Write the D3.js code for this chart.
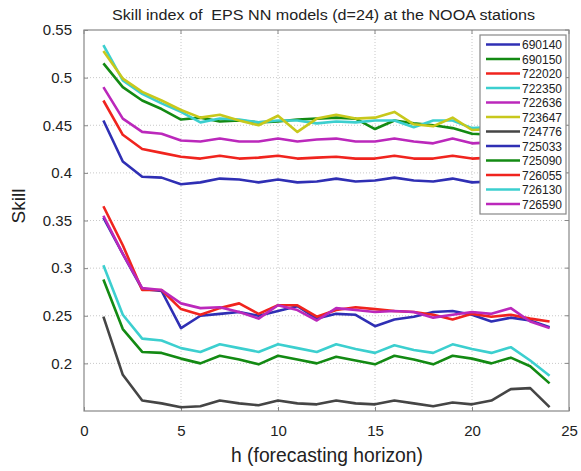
<!DOCTYPE html>
<html>
<head>
<meta charset="utf-8">
<script src="https://cdn.jsdelivr.net/npm/d3@7"></script>
<style>
  body { margin: 0; background: #fff; }
  text { font-family: "Liberation Sans", Arial, sans-serif; fill: #222; }
</style>
</head>
<body>
<div id="chart"></div>
<script>
// forecasting horizon 1..24
var horizon = [1,2,3,4,5,6,7,8,9,10,11,12,13,14,15,16,17,18,19,20,21,22,23,24];
var xTicks = [0, 5, 10, 15, 20, 25];
var yTicks = [0.2, 0.25, 0.3, 0.35, 0.4, 0.45, 0.5, 0.55];

var stations = ["690140","690150","722020","722350","722636","723647","724776","725033","725090","726055","726130","726590"];
var colors = ["#2f2fb4","#138a13","#f0241e","#3ccfcf","#bb28bb","#c8c81c","#454545","#2f2fb4","#138a13","#f0241e","#3ccfcf","#bb28bb"];

var s690140 = [0.455,0.412,0.396,0.395,0.388,0.390,0.394,0.393,0.390,0.393,0.390,0.391,0.394,0.391,0.392,0.395,0.392,0.391,0.394,0.390,0.391,0.392,0.390,0.389];
var s690150 = [0.515,0.490,0.476,0.467,0.456,0.458,0.454,0.455,0.453,0.454,0.456,0.457,0.458,0.457,0.446,0.455,0.452,0.450,0.447,0.441,0.440,0.441,0.439,0.438];
var s722020 = [0.476,0.440,0.425,0.421,0.417,0.415,0.418,0.415,0.416,0.418,0.415,0.416,0.417,0.415,0.415,0.418,0.415,0.415,0.418,0.415,0.416,0.415,0.415,0.414];
var s722350 = [0.534,0.497,0.483,0.473,0.464,0.453,0.457,0.456,0.453,0.455,0.455,0.452,0.454,0.453,0.455,0.455,0.448,0.455,0.455,0.447,0.448,0.449,0.447,0.446];
var s722636 = [0.490,0.457,0.443,0.441,0.434,0.433,0.436,0.433,0.433,0.436,0.433,0.435,0.436,0.433,0.433,0.436,0.433,0.431,0.436,0.431,0.432,0.431,0.430,0.430];
var s723647 = [0.528,0.499,0.485,0.476,0.466,0.458,0.461,0.455,0.450,0.460,0.443,0.457,0.461,0.457,0.458,0.464,0.451,0.449,0.458,0.445,0.446,0.447,0.445,0.444];
var s724776 = [0.249,0.188,0.161,0.158,0.154,0.155,0.161,0.158,0.156,0.161,0.158,0.157,0.161,0.158,0.157,0.161,0.158,0.155,0.159,0.157,0.161,0.173,0.174,0.154];
var s725033 = [0.353,0.315,0.278,0.276,0.237,0.250,0.252,0.254,0.250,0.255,0.260,0.247,0.252,0.251,0.239,0.246,0.249,0.254,0.255,0.251,0.244,0.248,0.245,0.238];
var s725090 = [0.288,0.236,0.212,0.211,0.205,0.200,0.208,0.204,0.199,0.208,0.204,0.200,0.207,0.203,0.199,0.208,0.204,0.199,0.208,0.205,0.200,0.206,0.197,0.179];
var s726055 = [0.365,0.324,0.277,0.277,0.257,0.251,0.258,0.263,0.252,0.261,0.261,0.249,0.256,0.259,0.257,0.255,0.254,0.251,0.246,0.252,0.249,0.251,0.247,0.244];
var s726130 = [0.303,0.251,0.226,0.224,0.216,0.212,0.220,0.216,0.212,0.220,0.216,0.212,0.220,0.215,0.211,0.219,0.214,0.211,0.220,0.215,0.211,0.217,0.203,0.187];
var s726590 = [0.355,0.315,0.279,0.277,0.263,0.258,0.259,0.254,0.247,0.261,0.256,0.245,0.258,0.256,0.254,0.255,0.254,0.248,0.251,0.254,0.252,0.258,0.244,0.237];

var seriesValues = [s690140,s690150,s722020,s722350,s722636,s723647,s724776,s725033,s725090,s726055,s726130,s726590];

var W = 581, H = 471;
var margin = { top: 30, right: 12, bottom: 60, left: 84 };
var width = 569 - margin.left, height = 411 - margin.top;

var svg = d3.select("#chart").append("svg")
  .attr("width", W).attr("height", H);

var g = svg.append("g")
  .attr("transform", "translate(" + margin.left + "," + margin.top + ")");

var x = d3.scaleLinear().domain([0, 25]).range([0, width]);
var y = d3.scaleLinear().domain([0.15, 0.55]).range([height, 0]);

// grid
g.append("g").selectAll("line").data(xTicks.slice(1, -1)).enter().append("line")
  .attr("x1", d => x(d)).attr("x2", d => x(d)).attr("y1", 0).attr("y2", height)
  .style("stroke", "#c8c8c8").style("stroke-dasharray", "1,2");
g.append("g").selectAll("line").data(yTicks.slice(0, -1)).enter().append("line")
  .attr("x1", 0).attr("x2", width).attr("y1", d => y(d)).attr("y2", d => y(d))
  .style("stroke", "#c8c8c8").style("stroke-dasharray", "1,2");

// axes
var xAxis = g.append("g")
  .attr("transform", "translate(0," + height + ")")
  .call(d3.axisBottom(x).tickValues(xTicks).tickSize(-4).tickPadding(14).tickFormat(d3.format("d")));
var yAxis = g.append("g")
  .call(d3.axisLeft(y).tickValues(yTicks).tickSize(-4).tickPadding(12).tickFormat(d => String(d)));
[xAxis, yAxis].forEach(function (a) {
  a.select(".domain").remove();
  a.selectAll("line").style("stroke", "#888");
  a.selectAll("text").style("font-size", "15px").style("fill", "#222");
});
// right side and top ticks
g.append("g").selectAll("line").data(yTicks).enter().append("line")
  .attr("x1", width - 4).attr("x2", width).attr("y1", d => y(d)).attr("y2", d => y(d))
  .style("stroke", "#888");
g.append("g").selectAll("line").data(xTicks).enter().append("line")
  .attr("x1", d => x(d)).attr("x2", d => x(d)).attr("y1", 0).attr("y2", 4)
  .style("stroke", "#888");

// lines
var line = d3.line()
  .x((d, i) => x(horizon[i]))
  .y(d => y(d));

g.append("g").selectAll("path").data(seriesValues).enter().append("path")
  .attr("d", d => line(d))
  .style("fill", "none")
  .style("stroke", (d, i) => colors[i])
  .style("stroke-width", 2.6)
  .style("stroke-linejoin", "round");

// plot border
g.append("rect")
  .attr("width", width).attr("height", height)
  .style("fill", "none").style("stroke", "#888").style("stroke-width", 1.2);

// legend
var lg = svg.append("g").attr("transform", "translate(480,35)");
lg.append("rect")
  .attr("width", 86).attr("height", 179)
  .style("fill", "#fff").style("stroke", "#888").style("stroke-width", 1.2);
var items = lg.selectAll(".item").data(stations).enter().append("g")
  .attr("transform", (d, i) => "translate(0," + (9.5 + i * 14.5) + ")");
items.append("line")
  .attr("x1", 6).attr("x2", 40).attr("y1", 0).attr("y2", 0)
  .style("stroke", (d, i) => colors[i]).style("stroke-width", 2.6);
items.append("text")
  .attr("x", 42).attr("y", 4.5)
  .style("font-size", "12px")
  .text(d => d);

// title and labels
svg.append("text")
  .attr("x", 323.5).attr("y", 19.5)
  .attr("text-anchor", "middle")
  .attr("textLength", 423)
  .attr("lengthAdjust", "spacingAndGlyphs")
  .style("font-size", "15.5px")
  .text("Skill index of\u00a0 EPS NN models (d=24) at the NOOA stations");

svg.append("text")
  .attr("x", 327).attr("y", 461.5)
  .attr("text-anchor", "middle")
  .attr("textLength", 192)
  .attr("lengthAdjust", "spacingAndGlyphs")
  .style("font-size", "21px")
  .text("h (forecasting horizon)");

svg.append("text")
  .attr("transform", "translate(25,206) rotate(-90)")
  .attr("text-anchor", "middle")
  .style("font-size", "19px")
  .text("Skill");
</script>
</body>
</html>
